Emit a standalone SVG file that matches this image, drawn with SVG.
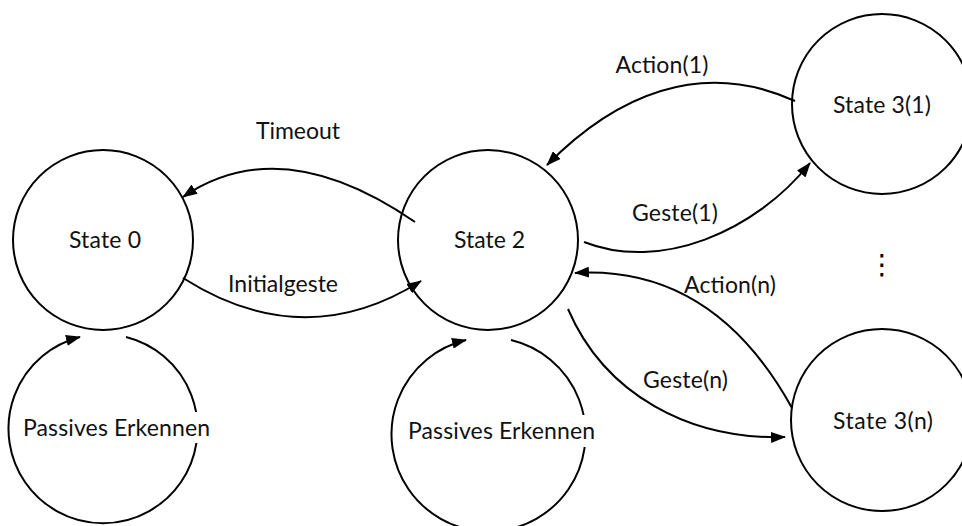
<svg xmlns="http://www.w3.org/2000/svg" width="962" height="526" viewBox="0 0 962 526">
  <style>
    .state { fill: none; stroke: #000; stroke-width: 2; }
    .edge { fill: none; stroke: #000; stroke-width: 2; marker-end: url(#arrow); }
    .lbl { font-family: Lato, "Open Sans", "Liberation Sans", sans-serif; font-size: 23px; fill: #111; text-anchor: middle; }
    .mask { fill: #fff; }
  </style>
  <defs>
    <marker id="arrow" markerUnits="userSpaceOnUse" markerWidth="15" markerHeight="11" refX="14" refY="5.5" orient="auto">
      <path d="M0,0 L15,5.5 L0,11 Z" fill="#000"/>
    </marker>
  </defs>
  <rect width="962" height="526" fill="#fff"/>

  <!-- transitions -->
  <g id="connectors">
    <path id="e-timeout" class="edge" d="M415,222 Q281,130 183,197"/>
    <path id="e-initialgeste" class="edge" d="M183,278 Q304,355 421,281"/>
    <path id="e-action1" class="edge" d="M795,101 C700,58 615,96 547,165"/>
    <path id="e-geste1" class="edge" d="M584,242 C660,272 755,232 810,163"/>
    <path id="e-actionn" class="edge" d="M792,408 C735,305 660,268 575,273"/>
    <path id="e-gesten" class="edge" d="M568,309 C605,395 690,440 785,437"/>
    <path id="e-loop0" class="edge" d="M126,337 A94.5,94.5 0 1 1 80,337"/>
    <path id="e-loop2" class="edge" d="M511,340 A97,97 0 1 1 466,340"/>
  </g>

  <!-- states -->
  <g id="state0">
    <circle class="state" cx="103" cy="240" r="90"/>
    <text class="lbl" x="105" y="248" textLength="72" lengthAdjust="spacing">State 0</text>
  </g>
  <g id="state2">
    <circle class="state" cx="488" cy="240" r="90"/>
    <text class="lbl" x="489.5" y="248" textLength="71" lengthAdjust="spacing">State 2</text>
  </g>
  <g id="state3-1">
    <circle class="state" cx="882" cy="104" r="90"/>
    <text class="lbl" x="882" y="113" textLength="98" lengthAdjust="spacing">State 3(1)</text>
  </g>
  <g id="state3-n">
    <circle class="state" cx="882" cy="420" r="91"/>
    <text class="lbl" x="883" y="429" textLength="100" lengthAdjust="spacing">State 3(n)</text>
  </g>
  <g id="more-states">
    <text x="882" y="274" font-family="DejaVu Sans, sans-serif" font-size="28" text-anchor="middle" fill="#000">⋮</text>
  </g>

  <!-- transition labels -->
  <g id="labels">
    <text class="lbl" x="298" y="139" textLength="84" lengthAdjust="spacing">Timeout</text>
    <text class="lbl" x="283" y="292" textLength="110" lengthAdjust="spacing">Initialgeste</text>
    <text class="lbl" x="662" y="73" textLength="93" lengthAdjust="spacing">Action(1)</text>
    <text class="lbl" x="675" y="221" textLength="86" lengthAdjust="spacing">Geste(1)</text>
    <text class="lbl" x="730" y="293" textLength="92" lengthAdjust="spacing">Action(n)</text>
    <text class="lbl" x="685.5" y="388" textLength="85" lengthAdjust="spacing">Geste(n)</text>
    <rect class="mask" x="21" y="412" width="191" height="31"/>
    <text class="lbl" x="116.5" y="436" textLength="187" lengthAdjust="spacing">Passives Erkennen</text>
    <rect class="mask" x="406" y="415" width="191" height="32"/>
    <text class="lbl" x="501.5" y="439" textLength="187" lengthAdjust="spacing">Passives Erkennen</text>
  </g>
</svg>
